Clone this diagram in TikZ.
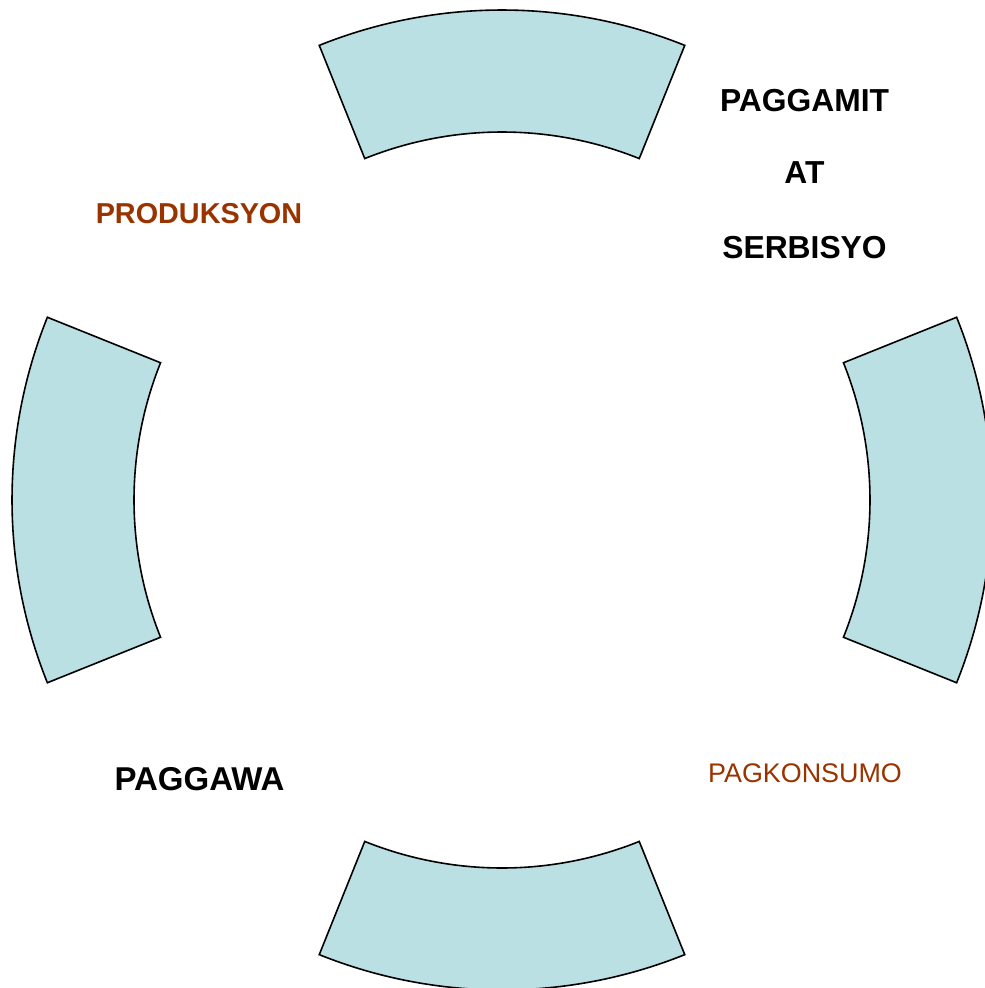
\documentclass[tikz,border=0pt]{standalone}
\usepackage{fontspec}
\setmainfont{Liberation Sans}
\definecolor{sectorfill}{HTML}{BBE0E3}
\definecolor{brownlbl}{HTML}{993300}
\begin{document}
\begin{tikzpicture}[x=1pt,y=1pt,
  sector/.style={fill=sectorfill,draw=black,line width=1.6pt,line join=miter},
  bigbold/.style={anchor=base,inner sep=0pt,font=\fontsize{31.8}{32}\selectfont\bfseries,text=black},
  brownbold/.style={anchor=base,inner sep=0pt,font=\fontsize{28.8}{29}\selectfont\bfseries,text=brownlbl},
  brownreg/.style={anchor=base,inner sep=0pt,font=\fontsize{26.9}{27}\selectfont,text=brownlbl}]
\useasboundingbox (0,0) rectangle (985,-988);
\clip (0,0) rectangle (985,-988);
\coordinate (c) at (502,-500);
\foreach \a in {90,0,180,270}{
  \draw[sector] ([shift={(\a-21.9:490)}]c) arc[start angle=\a-21.9,end angle=\a+21.9,radius=490]
    -- ([shift={(\a+21.9:368)}]c) arc[start angle=\a+21.9,end angle=\a-21.9,radius=368] -- cycle;
}
\node[bigbold] (paggamit) at (804.5,-111) {PAGGAMIT};
\node[bigbold] (at) at (804.5,-183) {AT};
\node[bigbold] (serbisyo) at (804.5,-258) {SERBISYO};
\node[brownbold] (produksyon) at (199,-223) {PRODUKSYON};
\node[bigbold,font=\fontsize{33}{33}\selectfont\bfseries] (paggawa) at (199.5,-790) {PAGGAWA};
\node[brownreg] (pagkonsumo) at (805,-782) {PAGKONSUMO};
\end{tikzpicture}
\end{document}
